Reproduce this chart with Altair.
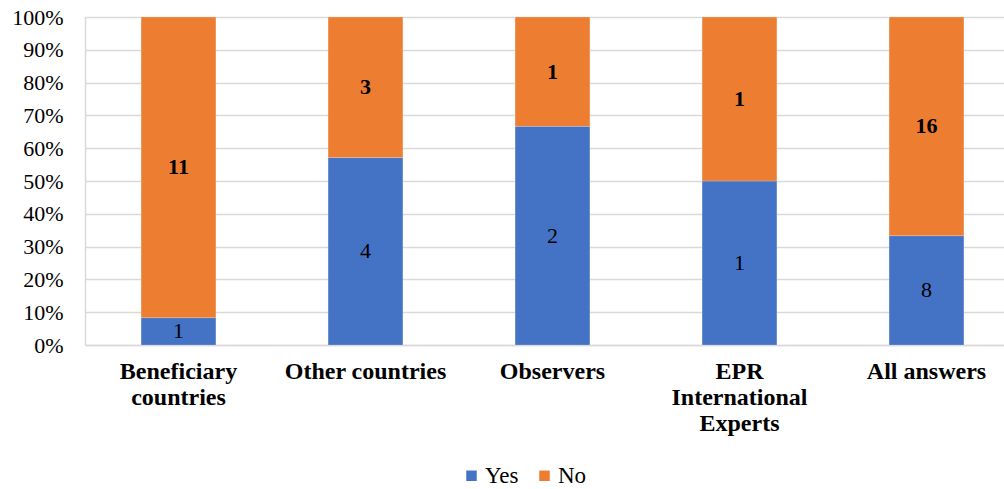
import altair as alt
import pandas as pd

categories = ["Beneficiary countries", "Other countries", "Observers",
              "EPR International Experts", "All answers"]
yes_counts = [1, 4, 2, 1, 8]
no_counts = [11, 3, 1, 1, 16]
series = ["Yes", "No"]
colors = ["#4472C4", "#ED7D31"]

rows = []
for c, y, n in zip(categories, yes_counts, no_counts):
    rows.append({"cat": c, "answer": "Yes", "count": y, "ord": 0})
    rows.append({"cat": c, "answer": "No", "count": n, "ord": 1})
df = pd.DataFrame(rows)

FONT = "Times New Roman, Liberation Serif, serif"

label_expr = (
    "datum.value == 'Beneficiary countries' ? ['Beneficiary', 'countries'] : "
    "datum.value == 'EPR International Experts' ? ['EPR', 'International', 'Experts'] : datum.value"
)

base = alt.Chart(df).transform_stack(
    stack="count", groupby=["cat"], as_=["y0", "y1"], offset="normalize",
    sort=[alt.SortField("ord", order="ascending")]
).transform_calculate(mid="(datum.y0 + datum.y1) / 2")

x_scale = alt.Scale(paddingInner=0.6, paddingOuter=0.3, range=[0, 935])
y_scale = alt.Scale(domain=[0, 1], nice=False)

x_axis = alt.Axis(labelAngle=0, labelFont=FONT, labelFontSize=24,
                  labelFontWeight="bold", labelColor="#000000",
                  labelLineHeight=26, labelPadding=14, labelExpr=label_expr,
                  ticks=False, domainColor="#d9d9d9", domainWidth=1.5,
                  labelBaseline="top", labelOverlap=False, grid=False)
y_axis = alt.Axis(values=[i / 10 for i in range(11)], format=".0%",
                  labelFont=FONT, labelFontSize=22, labelColor="#000000",
                  labelPadding=22, ticks=False, gridColor="#d9d9d9",
                  gridWidth=1.5, domainColor="#d9d9d9", domainWidth=1.5,
                  labelOverlap=False, labelFlush=False)

x_enc = alt.X("cat:N", sort=categories, title=None, scale=x_scale, axis=x_axis)

bars = base.mark_bar(stroke="white", strokeWidth=0.5, strokeOpacity=0.4).encode(
    x=x_enc,
    y=alt.Y("y0:Q", title=None, scale=y_scale, axis=y_axis),
    y2="y1:Q",
    color=alt.Color("answer:N", sort=series,
                    scale=alt.Scale(domain=series, range=colors),
                    legend=alt.Legend(title=None, orient="none", direction="horizontal",
                                      legendX=375, legendY=447,
                                      symbolType="square", symbolSize=110,
                                      symbolStrokeWidth=0,
                                      labelFont=FONT, labelFontSize=23,
                                      labelColor="#000000", columnPadding=14,
                                      labelOffset=2)),
)

yes_text = base.transform_filter("datum.answer == 'Yes'").mark_text(
    font=FONT, fontSize=22, color="#000000", baseline="middle"
).encode(x=x_enc,
         y=alt.Y("mid:Q", title=None, scale=y_scale, axis=y_axis), text="count:Q")

no_text = base.transform_filter("datum.answer == 'No'").mark_text(
    font=FONT, fontSize=22, fontWeight="bold", color="#000000", baseline="middle"
).encode(x=x_enc,
         y=alt.Y("mid:Q", title=None, scale=y_scale, axis=y_axis), text="count:Q")

chart = alt.layer(bars, yes_text, no_text).properties(
    width=919, height=328,
    autosize=alt.AutoSizeParams(type="none"),
    padding={"left": 85, "top": 17, "right": 0, "bottom": 144},
    background="white",
).configure_view(stroke=None).configure(font=FONT)

chart.save("out.html", embed_options={"renderer": "svg", "actions": False})
